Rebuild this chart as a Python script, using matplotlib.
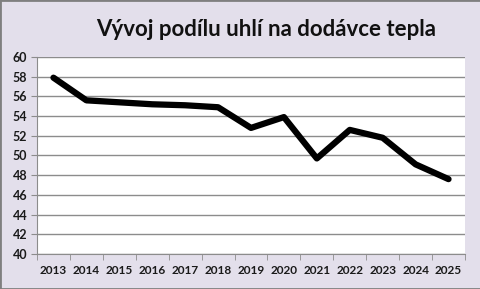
import matplotlib
matplotlib.use("Agg")
import matplotlib.pyplot as plt
from matplotlib.patches import Rectangle

years = ["2013", "2014", "2015", "2016", "2017", "2018", "2019",
         "2020", "2021", "2022", "2023", "2024", "2025"]
share = [57.9, 55.6, 55.4, 55.2, 55.1, 54.9, 52.8,
         53.9, 49.7, 52.6, 51.8, 49.1, 47.6]
y_ticks = list(range(40, 61, 2))

bg = "#E3DFEB"
grid_col = "#8C8C8C"

fig = plt.figure(figsize=(4.81, 2.89), dpi=100, facecolor=bg)
fig.patches.append(Rectangle((0, 0), 1, 1, transform=fig.transFigure,
                             fill=False, edgecolor="#7F7F7F", linewidth=2))

# plot area: x 37..465 px, y 57..254 px
ax = fig.add_axes([37 / 481, 1 - 254 / 289, 428 / 481, 197 / 289])
ax.set_facecolor("white")

x = list(range(len(years)))
ax.plot(x, share, color="black", linewidth=4.5, solid_capstyle="round",
        solid_joinstyle="round", zorder=3)

ax.set_xlim(-0.5, len(years) - 0.5)
ax.set_ylim(40, 60)
ax.set_yticks(y_ticks)
ax.set_yticklabels([str(v) for v in y_ticks])
ax.set_xticks(x)
ax.set_xticklabels(years)
ax.set_xticks([i - 0.5 for i in range(len(years) + 1)], minor=True)

ax.grid(axis="y", color=grid_col, linewidth=1)
ax.tick_params(axis="y", length=4, color=grid_col, pad=3,
               labelsize=9, labelcolor="#1a1a1a")
ax.tick_params(axis="x", which="major", length=0, pad=8,
               labelsize=8.5, labelcolor="#1a1a1a")
ax.tick_params(axis="x", which="minor", length=4, color=grid_col)

for lab in ax.get_xticklabels() + ax.get_yticklabels():
    lab.set_fontfamily("Lato")
    lab.set_fontweight("bold")

for side in ["top", "right"]:
    ax.spines[side].set_visible(False)
ax.spines["left"].set_color(grid_col)
ax.spines["bottom"].set_color(grid_col)

fig.text(266 / 481, 1 - 30 / 289, "Vývoj podílu uhlí na dodávce tepla",
         ha="center", va="center", fontsize=16, fontweight="bold",
         family="Lato", color="#111111")

fig.savefig("out.png", dpi=100, facecolor=bg)
